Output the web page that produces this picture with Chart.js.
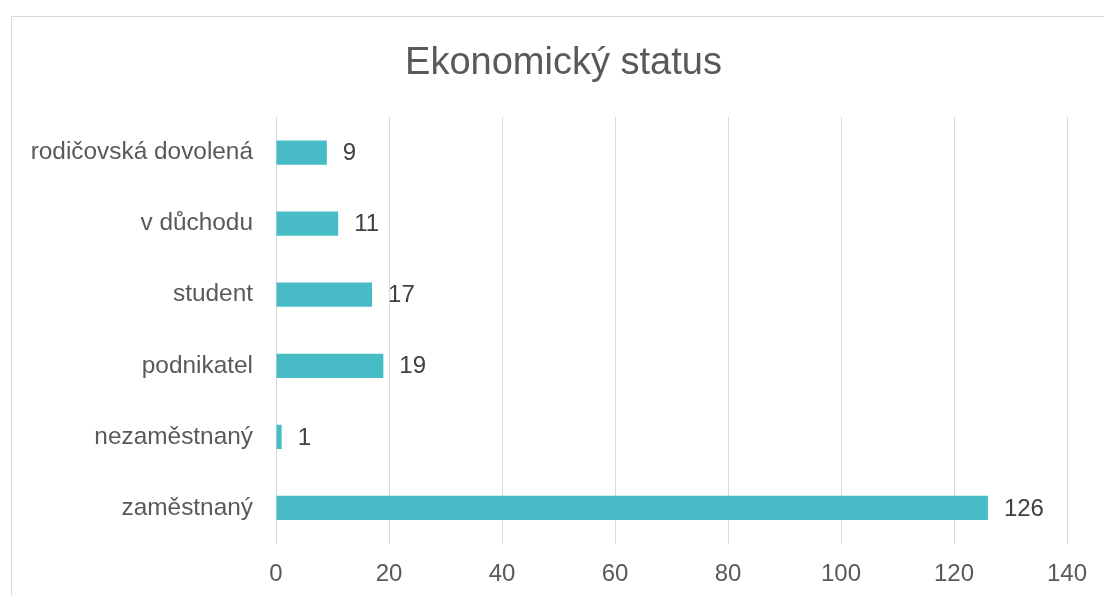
<!DOCTYPE html>
<html>
<head>
<meta charset="utf-8">
<script src="https://cdn.jsdelivr.net/npm/chart.js@4/dist/chart.umd.min.js"></script>
<style>
  html, body { margin: 0; padding: 0; background: #ffffff; }
  body { width: 1104px; height: 596px; position: relative; overflow: hidden; }
  #frame { position: absolute; left: 11px; top: 16px; width: 1200px; height: 700px; border: 1px solid #d9d9d9; box-sizing: border-box; }
  #wrap { position: absolute; left: 0; top: 0; width: 1104px; height: 596px; }
</style>
</head>
<body>
<div id="frame"></div>
<div id="wrap"><canvas id="c" width="1104" height="596"></canvas></div>
<script>
const categories = ["rodičovská dovolená", "v důchodu", "student", "podnikatel", "nezaměstnaný", "zaměstnaný"];
const values = [9, 11, 17, 19, 1, 126];
const xTicks = [0, 20, 40, 60, 80, 100, 120, 140];
const titleText = "Ekonomický status";

const FONT = "'Liberation Sans', Arial, sans-serif";

const valueLabels = {
  id: 'valueLabels',
  afterDatasetsDraw(chart) {
    const ctx = chart.ctx;
    const meta = chart.getDatasetMeta(0);
    ctx.save();
    ctx.font = "24px " + FONT;
    ctx.fillStyle = "#404040";
    ctx.textAlign = "left";
    ctx.textBaseline = "middle";
    meta.data.forEach((bar, i) => {
      ctx.fillText(String(values[i]), bar.x + 16, bar.y + 1);
    });
    ctx.restore();
  }
};

const shiftTitle = {
  id: 'shiftTitle',
  afterLayout(chart) {
    const t = chart.titleBlock;
    if (t) { t.left += 30; t.right += 30; }
  }
};

new Chart(document.getElementById('c'), {
  type: 'bar',
  data: {
    labels: categories,
    datasets: [{
      data: values,
      backgroundColor: '#48bcc6',
      borderWidth: 0,
      categoryPercentage: 1,
      barPercentage: 0.34
    }]
  },
  options: {
    indexAxis: 'y',
    responsive: false,
    animation: false,
    devicePixelRatio: 1,
    layout: { padding: { left: 0, right: 37, top: 0, bottom: 0 } },
    plugins: {
      legend: { display: false },
      tooltip: { enabled: false },
      title: {
        display: true,
        text: titleText,
        color: '#595959',
        font: { family: FONT, size: 38, weight: 'normal', lineHeight: 1.2 },
        padding: { top: 41, bottom: 30.4 }
      }
    },
    scales: {
      x: {
        min: xTicks[0],
        max: xTicks[xTicks.length - 1],
        afterBuildTicks(scale) { scale.ticks = xTicks.map(v => ({ value: v })); },
        grid: { color: '#d9d9d9', lineWidth: 1, drawTicks: false },
        border: { display: false },
        ticks: { color: '#595959', font: { family: FONT, size: 24 }, padding: 16, maxRotation: 0 },
        afterFit(scale) { scale.height = 52.5; }
      },
      y: {
        grid: { display: false, drawTicks: false },
        border: { display: false },
        ticks: { color: '#595959', font: { family: FONT, size: 24.4 }, padding: 23 },
        afterFit(scale) { scale.width = 276; }
      }
    }
  },
  plugins: [valueLabels, shiftTitle]
});
</script>
</body>
</html>
